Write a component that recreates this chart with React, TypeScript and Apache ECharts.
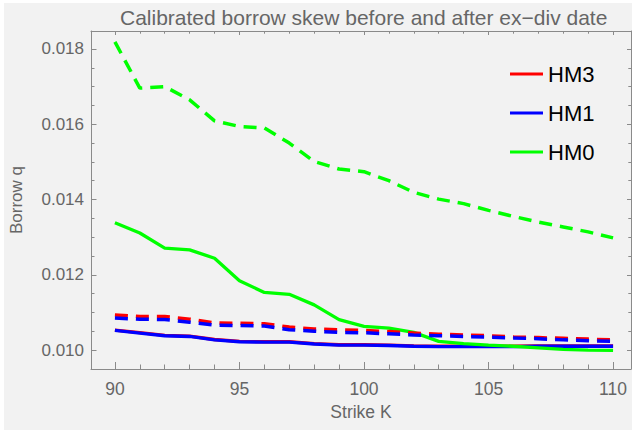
import React, { useEffect, useRef } from "react";
import * as echarts from "echarts";

const strikes = [90, 91, 92, 93, 94, 95, 96, 97, 98, 99, 100, 101, 102, 103, 104, 105, 106, 107, 108, 109, 110];

const hm3Dashed = [0.01093, 0.01089, 0.01089, 0.01082, 0.01072, 0.01071, 0.0107, 0.01061, 0.01056, 0.01054, 0.01052, 0.01049, 0.01045, 0.01042, 0.0104, 0.01038, 0.01035, 0.01033, 0.01031, 0.01029, 0.01027];
const hm1Dashed = [0.01085, 0.01082, 0.01081, 0.01074, 0.01066, 0.01065, 0.01064, 0.01054, 0.0105, 0.01047, 0.01046, 0.01043, 0.0104, 0.01038, 0.01036, 0.01034, 0.01032, 0.0103, 0.01027, 0.01025, 0.01023];
const hm0Dashed = [0.01819, 0.01696, 0.017, 0.01665, 0.01609, 0.01594, 0.0159, 0.0155, 0.01501, 0.01481, 0.01474, 0.0145, 0.01419, 0.01401, 0.01389, 0.01371, 0.01355, 0.0134, 0.01327, 0.01314, 0.01298];

const hm3Solid = [0.01053, 0.01046, 0.01039, 0.01037, 0.01028, 0.01023, 0.01022, 0.01022, 0.01017, 0.01014, 0.01014, 0.01013, 0.01011, 0.0101, 0.0101, 0.0101, 0.0101, 0.01011, 0.01011, 0.01011, 0.01011];
const hm1Solid = [0.01052, 0.01045, 0.01038, 0.01036, 0.01027, 0.01022, 0.01021, 0.01021, 0.01016, 0.01013, 0.01013, 0.01012, 0.0101, 0.01009, 0.01009, 0.01009, 0.01009, 0.0101, 0.0101, 0.0101, 0.0101];
const hm0Solid = [0.01338, 0.01311, 0.01271, 0.01266, 0.01244, 0.01184, 0.01153, 0.01148, 0.0112, 0.01081, 0.01063, 0.01058, 0.01047, 0.01023, 0.01017, 0.01013, 0.0101, 0.01006, 0.01002, 0.01, 0.00999];

const legendNames = ["HM3", "HM1", "HM0"];
const xMajorTicks = [90, 95, 100, 105, 110];
const xMinorTicks = [91, 92, 93, 94, 96, 97, 98, 99, 101, 102, 103, 104, 106, 107, 108, 109];
const yMajorTicks = [0.01, 0.012, 0.014, 0.016, 0.018];
const yMinorTicks = [0.0105, 0.011, 0.0115, 0.0125, 0.013, 0.0135, 0.0145, 0.015, 0.0155, 0.0165, 0.017, 0.0175];

const X_MIN = 89.04;
const X_MAX = 110.72;
const Y_MIN = 0.009496;
const Y_MAX = 0.018478;

const FONT = "'Liberation Sans', Arial, sans-serif";
const FRAME = "#8a8a8a";
const LABEL = "#666666";

function xAxisDef(position: string, ticks: number[], len: number, showLine: boolean, labels: boolean, extra: any = {}) {
  return {
    type: "value",
    min: X_MIN,
    max: X_MAX,
    position,
    axisLine: { show: showLine, lineStyle: { color: FRAME, width: 1 } },
    axisTick: { show: true, inside: true, length: len, customValues: ticks, lineStyle: { color: FRAME, width: 1 } },
    axisLabel: labels
      ? { show: true, customValues: ticks, margin: 11, color: LABEL, fontSize: 17.5, fontFamily: FONT }
      : { show: false },
    splitLine: { show: false },
    ...extra,
  };
}

function yAxisDef(position: string, ticks: number[], len: number, showLine: boolean, labels: boolean, extra: any = {}) {
  return {
    type: "value",
    min: Y_MIN,
    max: Y_MAX,
    position,
    axisLine: { show: showLine, lineStyle: { color: FRAME, width: 1 } },
    axisTick: { show: true, inside: true, length: len, customValues: ticks, lineStyle: { color: FRAME, width: 1 } },
    axisLabel: labels
      ? {
          show: true,
          customValues: ticks,
          margin: 7,
          color: LABEL,
          fontSize: 17,
          fontFamily: FONT,
          formatter: (v: number) => v.toFixed(3),
        }
      : { show: false },
    splitLine: { show: false },
    ...extra,
  };
}

function lineSeries(name: string, values: number[], color: string, dashed: boolean) {
  return {
    name,
    type: "line",
    xAxisIndex: 0,
    yAxisIndex: 0,
    data: strikes.map((k, i) => [k, values[i]]),
    symbol: "none",
    showSymbol: false,
    itemStyle: { color },
    lineStyle: { color, width: dashed ? 3.5 : 3.3, type: dashed ? [13, 8] : "solid" },
    silent: true,
  };
}

export default function App() {
  const ref = useRef<HTMLDivElement>(null);
  useEffect(() => {
    document.body.style.margin = "0";
    if (!ref.current) return;
    const chart = echarts.init(ref.current, undefined, { renderer: "svg" });
    chart.setOption({
      animation: false,
      backgroundColor: "#f2f2f2",
      title: {
        text: "Calibrated borrow skew before and after ex\u2212div date",
        left: 120,
        top: 7,
        padding: 0,
        textStyle: { color: LABEL, fontSize: 21, fontWeight: "normal", fontFamily: FONT },
      },
      legend: {
        data: legendNames,
        orient: "vertical",
        left: 510,
        top: 63,
        icon: "rect",
        itemWidth: 33,
        itemHeight: 3,
        itemGap: 17,
        itemTextGap: 20,
        padding: 0,
        textStyle: { color: "#000", fontSize: 22, fontFamily: FONT },
      },
      grid: { left: 89, right: 1, top: 31, bottom: 61, containLabel: false },
      xAxis: [
        xAxisDef("bottom", xMajorTicks, 7, true, true, {
          name: "Strike K",
          nameLocation: "middle",
          nameGap: 34,
          nameTextStyle: { color: LABEL, fontSize: 17.5, fontFamily: FONT },
        }),
        xAxisDef("bottom", xMinorTicks, 4.5, false, false),
        xAxisDef("top", xMajorTicks, 4, true, false),
        xAxisDef("top", xMinorTicks, 2.7, false, false),
      ],
      yAxis: [
        yAxisDef("left", yMajorTicks, 5.5, true, true, {
          name: "Borrow q",
          nameLocation: "middle",
          nameGap: 66,
          nameTextStyle: { color: LABEL, fontSize: 17, fontFamily: FONT },
        }),
        yAxisDef("left", yMinorTicks, 3.5, false, false),
        yAxisDef("right", yMajorTicks, 4, true, false),
        yAxisDef("right", yMinorTicks, 2.7, false, false),
      ],
      graphic: [
        { type: "rect", left: 0, top: 0, shape: { width: 632, height: 3 }, style: { fill: "#ffffff" }, silent: true },
        { type: "rect", left: 0, top: 0, shape: { width: 4, height: 430 }, style: { fill: "#ffffff" }, silent: true },
      ],
      series: [
        lineSeries("HM3", hm3Solid, "#ff0000", false),
        lineSeries("HM1", hm1Solid, "#0000ff", false),
        lineSeries("HM0", hm0Solid, "#00ff00", false),
        lineSeries("HM3", hm3Dashed, "#ff0000", true),
        lineSeries("HM1", hm1Dashed, "#0000ff", true),
        lineSeries("HM0", hm0Dashed, "#00ff00", true),
      ],
    });
    return () => chart.dispose();
  }, []);
  return <div ref={ref} style={{ width: 632, height: 430 }} />;
}
